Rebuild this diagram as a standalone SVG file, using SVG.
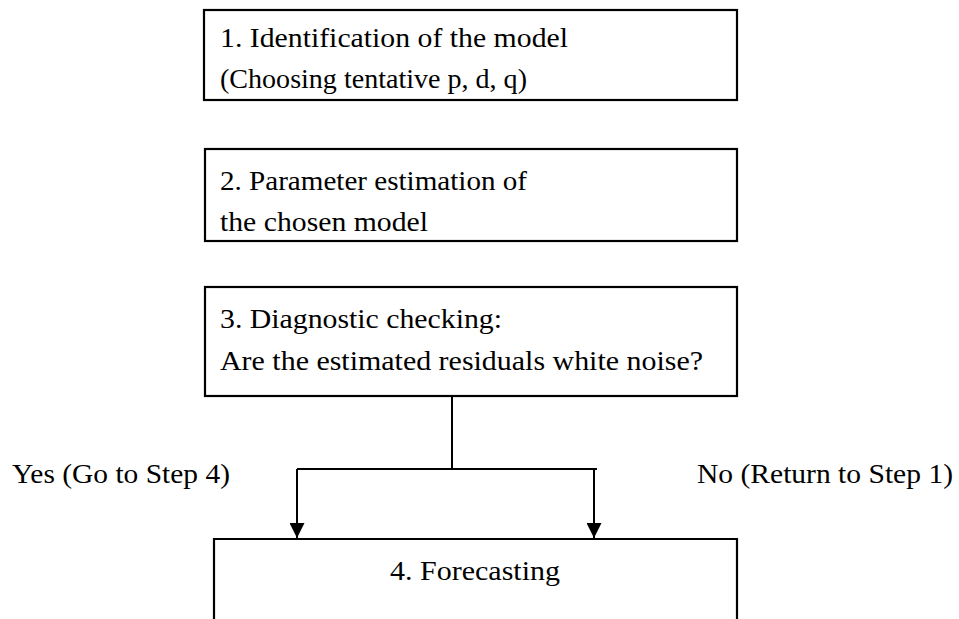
<svg xmlns="http://www.w3.org/2000/svg" width="959" height="619" viewBox="0 0 959 619">
<defs>
<style>
.box{fill:#fff;stroke:#000;stroke-width:2.2}
.t{font-family:"Liberation Serif","Times New Roman",serif;font-size:26.5px;fill:#000}
.c{fill:none;stroke:#000;stroke-width:2}
</style>
<marker id="ah" viewBox="0 0 10 10" refX="10" refY="5" markerWidth="7.5" markerHeight="7.5" markerUnits="strokeWidth" orient="auto">
<path d="M0,0 L10,5 L0,10 Z" fill="#000"/>
</marker>
</defs>
<rect width="959" height="619" fill="#fff"/>
<g id="node1">
<rect class="box" x="204" y="10" width="533" height="90"/>
<text class="t" x="220" y="47" textLength="348" lengthAdjust="spacingAndGlyphs">1. Identification of the model</text>
<text class="t" x="220" y="88" textLength="307" lengthAdjust="spacingAndGlyphs">(Choosing tentative p, d, q)</text>
</g>
<g id="node2">
<rect class="box" x="205" y="149" width="532" height="92"/>
<text class="t" x="220" y="190" textLength="307" lengthAdjust="spacingAndGlyphs">2. Parameter estimation of</text>
<text class="t" x="220" y="231" textLength="208" lengthAdjust="spacingAndGlyphs">the chosen model</text>
</g>
<g id="node3">
<rect class="box" x="205" y="287" width="532" height="109"/>
<text class="t" x="220" y="328" textLength="282" lengthAdjust="spacingAndGlyphs">3. Diagnostic checking:</text>
<text class="t" x="220" y="370" textLength="483" lengthAdjust="spacingAndGlyphs">Are the estimated residuals white noise?</text>
</g>
<g id="node4">
<path class="box" d="M214,625 V539 H737 V625"/>
<text class="t" x="390" y="580" textLength="170" lengthAdjust="spacingAndGlyphs">4. Forecasting</text>
</g>
<g id="connectors">
<path class="c" d="M452,396 V469"/>
<path class="c" d="M297,469 H597"/>
<path class="c" d="M297,469 V538" marker-end="url(#ah)"/>
<path class="c" d="M594,469 V538" marker-end="url(#ah)"/>
</g>
<g id="labels">
<text class="t" x="12" y="483" textLength="218" lengthAdjust="spacingAndGlyphs">Yes (Go to Step 4)</text>
<text class="t" x="697" y="483" textLength="256" lengthAdjust="spacingAndGlyphs">No (Return to Step 1)</text>
</g>
</svg>
